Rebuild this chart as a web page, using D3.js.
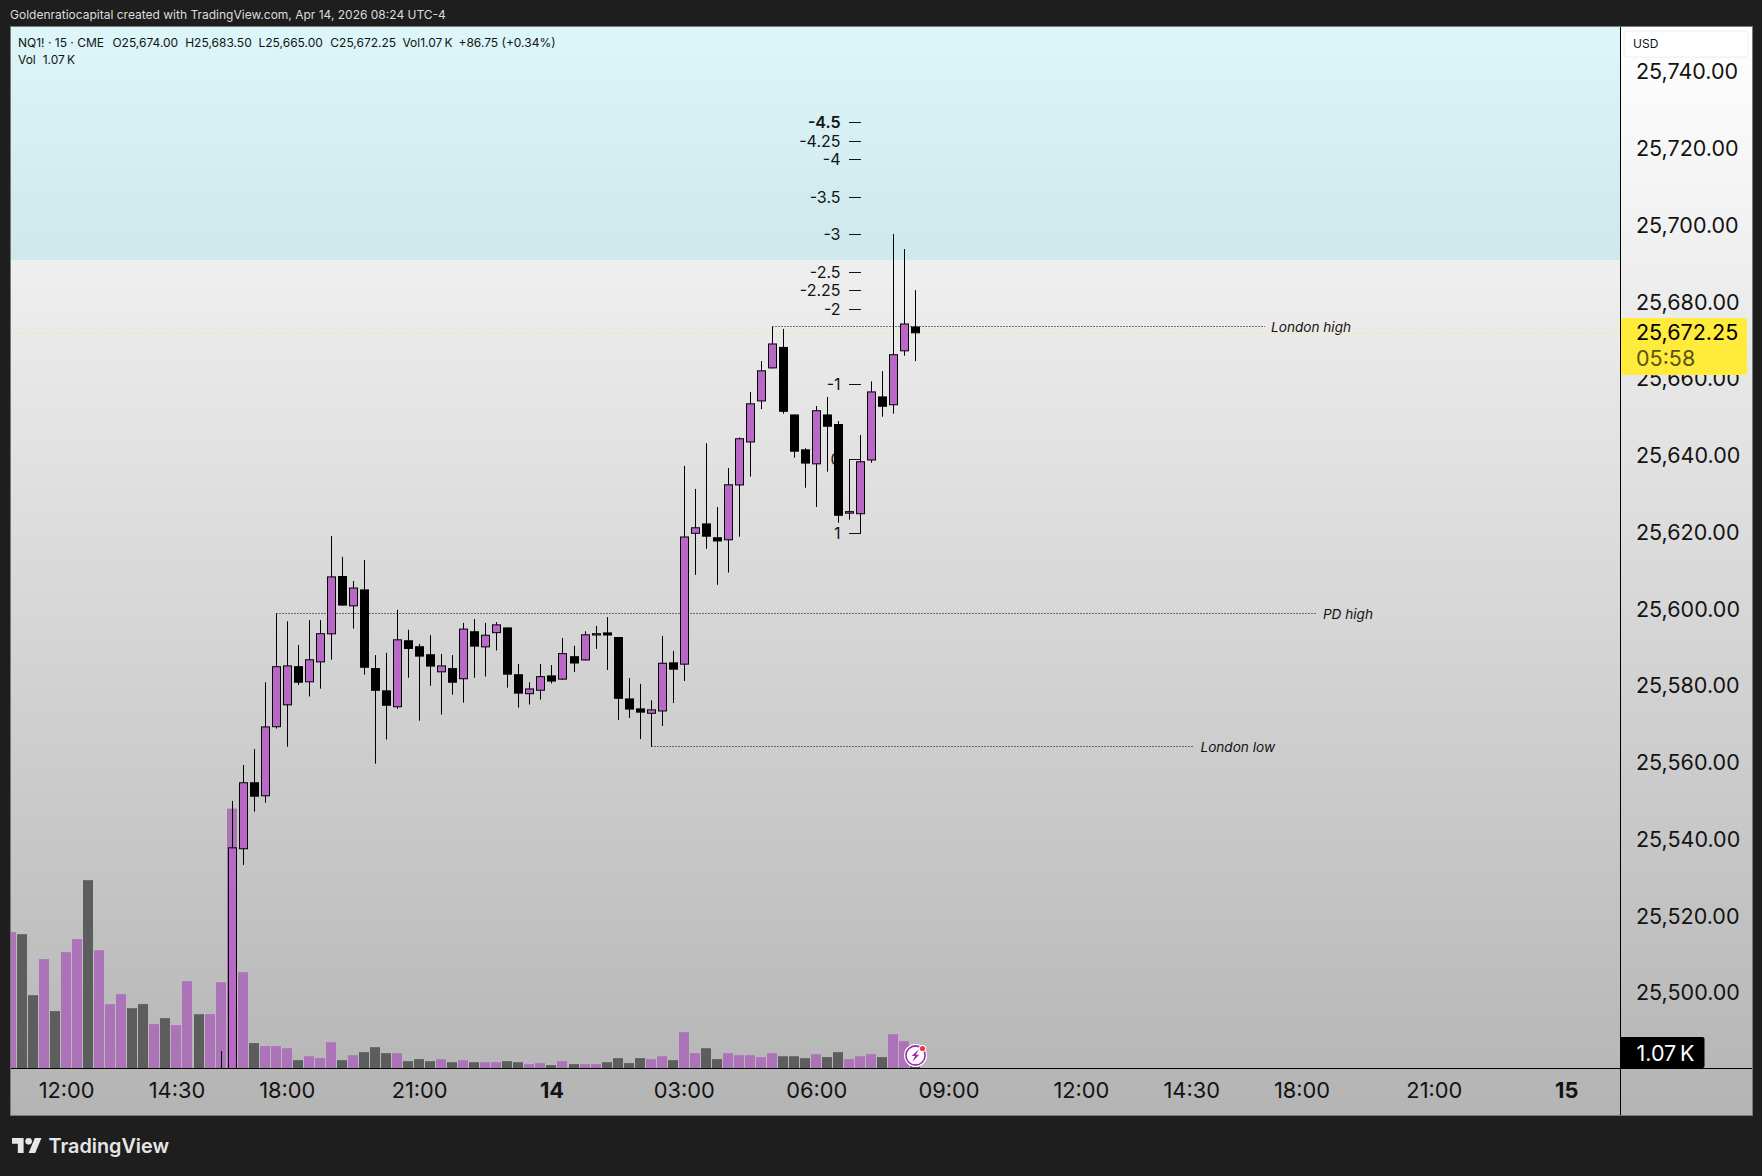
<!DOCTYPE html>
<html>
<head>
<meta charset="utf-8">
<title>NQ1! 15m</title>
<script src="https://cdnjs.cloudflare.com/ajax/libs/d3/7.9.0/d3.min.js"></script>
<style>
  html, body { margin: 0; padding: 0; background: #1e1e1e; }
  svg { display: block; font-family: Inter, "Liberation Sans", sans-serif; }
</style>
</head>
<body>
<svg id="chart" width="1762" height="1176"></svg>
<script>
// Candles start at bar 19; earlier bars sit below the visible price range.
const firstCandleBar = 19;
const opens = [25470, 25472, 25537.8, 25555.25, 25551.6, 25569.6, 25575.3, 25585.5, 25581.3, 25586.5, 25593.8, 25609, 25601.1, 25605.5, 25585, 25579.2, 25574.8, 25592.25, 25590.7, 25588.6, 25583.9, 25585, 25582.1, 25594.6, 25590.4, 25594.1, 25595.6, 25583.4, 25578.2, 25579.1, 25583.1, 25582, 25588.1, 25587, 25593.5, 25594.3, 25593.1, 25577.1, 25574.5, 25573.1, 25573.7, 25586.5, 25585.9, 25620, 25622.7, 25619.1, 25618.3, 25632.6, 25643.8, 25654.5, 25663.1, 25668.7, 25651.1, 25642, 25638.1, 25651.1, 25648.6, 25625.25, 25625.1, 25639.1, 25655.8, 25653.5, 25667.55, 25674];
const highs = [25485.2, 25550.4, 25559.75, 25563.9, 25581.3, 25599.25, 25597.2, 25591, 25597.5, 25597.5, 25619.4, 25614, 25607.7, 25613.2, 25588.4, 25589, 25600.2, 25595, 25591.3, 25593.6, 25588.7, 25588.4, 25596.8, 25597.8, 25596.8, 25597, 25595.6, 25586.1, 25581.3, 25586.1, 25585.8, 25592.85, 25590.8, 25594.6, 25596, 25598.3, 25593.1, 25582.4, 25580.9, 25576.6, 25593.4, 25589.5, 25637.7, 25631.7, 25643.6, 25627, 25637.15, 25645.1, 25656.95, 25665, 25674, 25673.4, 25651.1, 25642.3, 25653.3, 25655.65, 25649.4, 25639.4, 25645.75, 25659.7, 25662.4, 25698.1, 25694.2, 25683.5];
const lows = [25460, 25468, 25533.7, 25547.6, 25549.9, 25569.25, 25564.5, 25580.6, 25577.6, 25579.65, 25587.2, 25601.25, 25595.3, 25583.3, 25560.1, 25566.4, 25574.4, 25582.5, 25571.3, 25580.4, 25572.9, 25578.1, 25576, 25582.5, 25582.8, 25589.6, 25579.9, 25574.7, 25575.5, 25576.8, 25581, 25581.9, 25584, 25587, 25590, 25584.5, 25571.5, 25572, 25566.5, 25564.5, 25569.9, 25575.9, 25581.65, 25609.3, 25616.1, 25606.7, 25609.9, 25619.25, 25634.9, 25652.5, 25663.1, 25651.3, 25639.85, 25632, 25627, 25636.2, 25622.9, 25623.7, 25620.1, 25638.5, 25650.5, 25651.3, 25666.4, 25665];
const closes = [25480, 25538.3, 25555.25, 25551.5, 25569.8, 25585.5, 25585.7, 25581.2, 25587.3, 25594.1, 25608.9, 25601.3, 25606, 25585.1, 25579.1, 25575.2, 25592.5, 25590, 25588, 25585.4, 25585.7, 25581.2, 25595.3, 25590.6, 25593.7, 25596.4, 25583.3, 25578.35, 25579.7, 25582.9, 25581.5, 25588.9, 25586.2, 25593.8, 25594.1, 25593.5, 25577, 25574.2, 25573.4, 25574.25, 25586.4, 25584.6, 25619.3, 25621.7, 25619.25, 25618, 25632.9, 25644.9, 25654, 25662.6, 25669.6, 25651.8, 25641.4, 25638.3, 25652.2, 25647.9, 25624.7, 25625.9, 25638.9, 25657.1, 25653.1, 25666.8, 25674.8, 25672.25];

// Volume in thousands of contracts, one entry per bar from bar 0.
const volumes = [9.34, 9.2, 5.02, 7.49, 3.93, 7.97, 8.86, 12.9, 8.1, 4.41, 5.09, 4.13, 4.41, 3.04, 3.45, 2.97, 5.98, 3.72, 3.72, 5.91, 17.8, 6.6, 1.74, 1.53, 1.53, 1.39, 0.57, 0.84, 0.71, 1.8, 0.57, 0.91, 1.12, 1.46, 1.05, 1.05, 0.5, 0.64, 0.5, 0.64, 0.43, 0.57, 0.43, 0.43, 0.43, 0.5, 0.43, 0.3, 0.37, 0.23, 0.5, 0.3, 0.3, 0.3, 0.43, 0.71, 0.37, 0.71, 0.64, 0.84, 0.57, 2.49, 1.05, 1.39, 0.64, 1.05, 0.91, 0.91, 0.78, 1.05, 0.84, 0.84, 0.71, 0.98, 0.78, 1.12, 0.64, 0.84, 0.98, 0.78, 2.35, 1.87, 1.07];
const volumeUp = [1, 0, 0, 1, 0, 1, 1, 0, 1, 1, 1, 0, 0, 1, 0, 1, 1, 0, 1, 1, 1, 1, 0, 1, 1, 1, 0, 1, 1, 1, 0, 1, 0, 0, 0, 1, 0, 0, 0, 1, 0, 1, 0, 1, 1, 0, 0, 1, 1, 0, 1, 0, 1, 1, 0, 0, 0, 0, 1, 1, 0, 1, 1, 0, 0, 1, 1, 1, 1, 1, 0, 0, 0, 1, 0, 0, 1, 1, 1, 0, 1, 1, 0];

const priceTicks = [25740, 25720, 25700, 25680, 25660, 25640, 25620, 25600, 25580, 25560, 25540, 25520, 25500];
const timeTickBars = [5, 15, 25, 37, 49, 61, 73, 85, 97, 107, 117, 129, 141];
const timeTickLabels = ["12:00", "14:30", "18:00", "21:00", "14", "03:00", "06:00", "09:00", "12:00", "14:30", "18:00", "21:00", "15"];
const boldTimeLabels = ["14", "15"];

const fibLabels = ["-4.5", "-4.25", "-4", "-3.5", "-3", "-2.5", "-2.25", "-2", "-1", "0", "1"];
const fibPrices = [25727.2, 25722.3, 25717.6, 25707.7, 25698.05, 25688.15, 25683.45, 25678.5, 25658.95, 25639.4, 25620.1];

const levelNames = ["London high", "PD high", "London low"];
const levelPrices = [25674.07, 25599.3, 25564.6];
const levelStartBars = [69, 24, 58];
const levelEndBars = [113.7, 118.4, 107.3];

const lastPrice = 25672.25;
const lastPriceLabel = "25,672.25";
const countdownLabel = "05:58";
const volumeLabel = "1.07\u202fK";
const resistanceZonePrice = 25691.35;

const legendPieces = ["NQ1! · 15 · CME", "O25,674.00", "H25,683.50", "L25,665.00", "C25,672.25", "Vol1.07\u202fK", "+86.75 (+0.34%)"];
const legendOffsets = [18, 112.4, 185.2, 258.5, 330.3, 402.4, 458.5];

// Layout of the pane and its axes.
const pane = { left: 11, top: 27, right: 1620, bottom: 1068.5, outerRight: 1752, outerBottom: 1115 };
const purple = "#BA68C8", ink = "#131313";

const svg = d3.select("#chart");
const defs = svg.append("defs");
const grad = defs.append("linearGradient").attr("id", "paneFill")
  .attr("gradientUnits", "userSpaceOnUse").attr("x1", 0).attr("x2", 0)
  .attr("y1", pane.top).attr("y2", pane.outerBottom);
grad.append("stop").attr("offset", 0).attr("stop-color", "#ffffff");
grad.append("stop").attr("offset", 1).attr("stop-color", "#b4b4b4");
defs.append("clipPath").attr("id", "paneClip").append("rect")
  .attr("x", pane.left).attr("y", pane.top)
  .attr("width", pane.right - pane.left).attr("height", pane.bottom - pane.top);

const x = d3.scaleLinear().domain([0, 141]).range([11, 1566.2]);
const y = d3.scaleLinear().domain([25740, 25500]).range([73.3, 994.3]);
const yVol = d3.scaleLinear().domain([0, 20]).range([pane.bottom, pane.bottom - 292]);
const px = i => Math.round(x(i)) + 0.5;

// Frame and background
svg.append("rect").attr("x", 0).attr("y", 0).attr("width", 1762).attr("height", 1176).attr("fill", "#1e1e1e");
svg.append("rect").attr("x", pane.left - 0.5).attr("y", pane.top - 0.5)
  .attr("width", pane.outerRight - pane.left + 1).attr("height", pane.outerBottom - pane.top + 1)
  .attr("fill", "url(#paneFill)").attr("stroke", "#7a7a7a");

// Header line above the frame
svg.append("text").attr("x", 10).attr("y", 18.5).attr("font-size", 12).attr("fill", "#dcdcdc")
  .text("Goldenratiocapital created with TradingView.com, Apr 14, 2026 08:24 UTC-4");

// Resistance zone
svg.append("rect").attr("x", pane.left).attr("y", pane.top)
  .attr("width", pane.right - pane.left).attr("height", y(resistanceZonePrice) - pane.top)
  .attr("fill", "rgb(0,188,212)").attr("fill-opacity", 0.137);

const plot = svg.append("g").attr("clip-path", "url(#paneClip)");

// Volume histogram
plot.append("g").selectAll("rect").data(volumes).join("rect")
  .attr("x", (d, i) => Math.round(x(i)) - 5).attr("width", 10)
  .attr("y", d => yVol(d)).attr("height", d => pane.bottom - yVol(d))
  .attr("fill", (d, i) => volumeUp[i] ? "#ad73b8" : "#5d5d5d");

// Fibonacci ladder
const fib = plot.append("g");
fib.selectAll("line").data(fibPrices).join("line")
  .attr("x1", 849).attr("x2", 861)
  .attr("y1", d => Math.round(y(d)) + 0.5).attr("y2", d => Math.round(y(d)) + 0.5)
  .attr("stroke", ink);
fib.selectAll("text").data(fibPrices).join("text")
  .attr("x", 840.5).attr("y", d => y(d)).attr("dy", "0.36em")
  .attr("text-anchor", "end").attr("font-size", 16).attr("fill", ink)
  .attr("font-weight", (d, i) => fibLabels[i] === "-4.5" ? 600 : 400)
  .text((d, i) => fibLabels[i]);

// Named liquidity levels
const levels = plot.append("g");
levels.selectAll("line").data(levelPrices).join("line")
  .attr("x1", (d, i) => px(levelStartBars[i])).attr("x2", (d, i) => x(levelEndBars[i]))
  .attr("y1", d => Math.round(y(d)) + 0.5).attr("y2", d => Math.round(y(d)) + 0.5)
  .attr("stroke", "#000").attr("stroke-dasharray", "1 2");
levels.selectAll("text").data(levelPrices).join("text")
  .attr("x", (d, i) => x(levelEndBars[i]) + 6).attr("y", d => y(d) + 1).attr("dy", "0.36em")
  .attr("font-size", 13.6).attr("font-style", "italic").attr("fill", ink)
  .text((d, i) => levelNames[i]);

// Last price line
plot.append("line").attr("x1", pane.left).attr("x2", pane.right)
  .attr("y1", Math.round(y(lastPrice)) + 0.5).attr("y2", Math.round(y(lastPrice)) + 0.5)
  .attr("stroke", "#FFEB3B").attr("stroke-dasharray", "1 2");

// Candlesticks
const candles = plot.append("g").selectAll("g").data(opens).join("g");
candles.append("line")
  .attr("x1", (d, i) => px(i + firstCandleBar)).attr("x2", (d, i) => px(i + firstCandleBar))
  .attr("y1", (d, i) => y(highs[i])).attr("y2", (d, i) => y(lows[i]))
  .attr("stroke", "#000");
candles.append("rect")
  .attr("x", (d, i) => px(i + firstCandleBar) - 4).attr("width", 8)
  .attr("y", (d, i) => y(Math.max(d, closes[i])) + 0.5)
  .attr("height", (d, i) => Math.max(0.5, Math.abs(y(d) - y(closes[i])) - 1))
  .attr("fill", (d, i) => closes[i] >= d ? purple : "#000")
  .attr("stroke", "#000");

// Separator and time axis line
svg.append("line").attr("x1", pane.right + 0.5).attr("x2", pane.right + 0.5)
  .attr("y1", pane.top).attr("y2", pane.outerBottom).attr("stroke", "#000");
svg.append("line").attr("x1", pane.left).attr("x2", pane.outerRight)
  .attr("y1", pane.bottom).attr("y2", pane.bottom).attr("stroke", "#000");

// Price axis
const priceAxis = d3.axisRight(y).tickValues(priceTicks).tickSize(0).tickPadding(0)
  .tickFormat(d3.format(",.2f"));
const gPrice = svg.append("g").attr("transform", "translate(1636,-2.1)").call(priceAxis);
gPrice.select(".domain").remove();
gPrice.selectAll("text").attr("font-family", "Inter, sans-serif").attr("font-size", 21.5).attr("fill", ink).attr("dy", "0.36em");

// Time axis
const timeAxis = d3.axisBottom(x).tickValues(timeTickBars).tickSize(0).tickPadding(0)
  .tickFormat((d, i) => timeTickLabels[i]);
const gTime = svg.append("g").attr("transform", "translate(0,1090.5)").call(timeAxis);
gTime.select(".domain").remove();
gTime.selectAll("text").attr("y", 0).attr("dy", "0.36em")
  .attr("font-family", "Inter, sans-serif").attr("font-size", 21.8).attr("fill", ink)
  .attr("font-weight", (d, i) => boldTimeLabels.includes(timeTickLabels[i]) ? 700 : 400);

// Currency badge
svg.append("rect").attr("x", 1624).attr("y", 31).attr("width", 124).attr("height", 26).attr("rx", 4)
  .attr("fill", "#ffffff").attr("fill-opacity", 0.7).attr("stroke", "#eeeeee");
svg.append("text").attr("x", 1633).attr("y", 44).attr("dy", "0.36em").attr("font-size", 12).attr("fill", ink).text("USD");

// Last price tag with countdown
svg.append("rect").attr("x", 1621).attr("y", 318).attr("width", 126).attr("height", 57).attr("rx", 2).attr("fill", "#FFEB3B");
svg.append("text").attr("x", 1636).attr("y", 332.7).attr("dy", "0.36em").attr("font-size", 21.5).attr("fill", "#000").text(lastPriceLabel);
svg.append("text").attr("x", 1636).attr("y", 358.3).attr("dy", "0.36em").attr("font-size", 21.5).attr("fill", "#5a5413").text(countdownLabel);

// Volume tag
svg.append("path").attr("d", "M1621 1037H1702.5a2 2 0 0 1 2 2V1066a2 2 0 0 1 -2 2H1621Z").attr("fill", "#000");
svg.append("text").attr("x", 1636.5).attr("y", 1053).attr("dy", "0.36em").attr("font-size", 21.5).attr("fill", "#fff").text(volumeLabel);

// Legend rows
svg.append("g").selectAll("text").data(legendPieces).join("text")
  .attr("x", (d, i) => legendOffsets[i]).attr("y", 42.7).attr("dy", "0.36em")
  .attr("font-size", 12).attr("fill", ink).text(d => d);
svg.append("text").attr("x", 18).attr("y", 59.7).attr("dy", "0.36em").attr("font-size", 12).attr("fill", ink).text("Vol");
svg.append("text").attr("x", 42.7).attr("y", 59.7).attr("dy", "0.36em").attr("font-size", 12).attr("fill", ink).text(volumeLabel);

// Realtime marker sitting on the newest bar
const marker = svg.append("g").attr("transform", `translate(${px(82)},1055.5)`);
marker.append("circle").attr("r", 11.5).attr("fill", "#fff");
marker.append("circle").attr("r", 9.6).attr("fill", "#fff").attr("stroke", "#9c27b0").attr("stroke-width", 1.6);
marker.append("path").attr("d", "M3.2 -6.2 L-3.8 0.6 H-0.4 L-3.2 6.2 L3.8 -0.8 H0.4 Z").attr("fill", "#9c27b0");
marker.append("circle").attr("cx", 7).attr("cy", -7).attr("r", 3.6).attr("fill", "#fff");
marker.append("circle").attr("cx", 7).attr("cy", -7).attr("r", 2.6).attr("fill", "#f23645");

// Brand mark
const brand = svg.append("g").attr("fill", "#e6e6e6");
brand.append("g").attr("transform", "translate(12,1134.7) scale(0.83)").call(g => {
  g.append("path").attr("d", "M14 22H7V11H0V4h14v18zM28 22h-8l7.5-18h8L28 22z");
  g.append("circle").attr("cx", 20).attr("cy", 8).attr("r", 4);
});
brand.append("text").attr("x", 48.5).attr("y", 1146).attr("dy", "0.36em")
  .attr("font-size", 19.8).attr("font-weight", 600).text("TradingView");
</script>
</body>
</html>
